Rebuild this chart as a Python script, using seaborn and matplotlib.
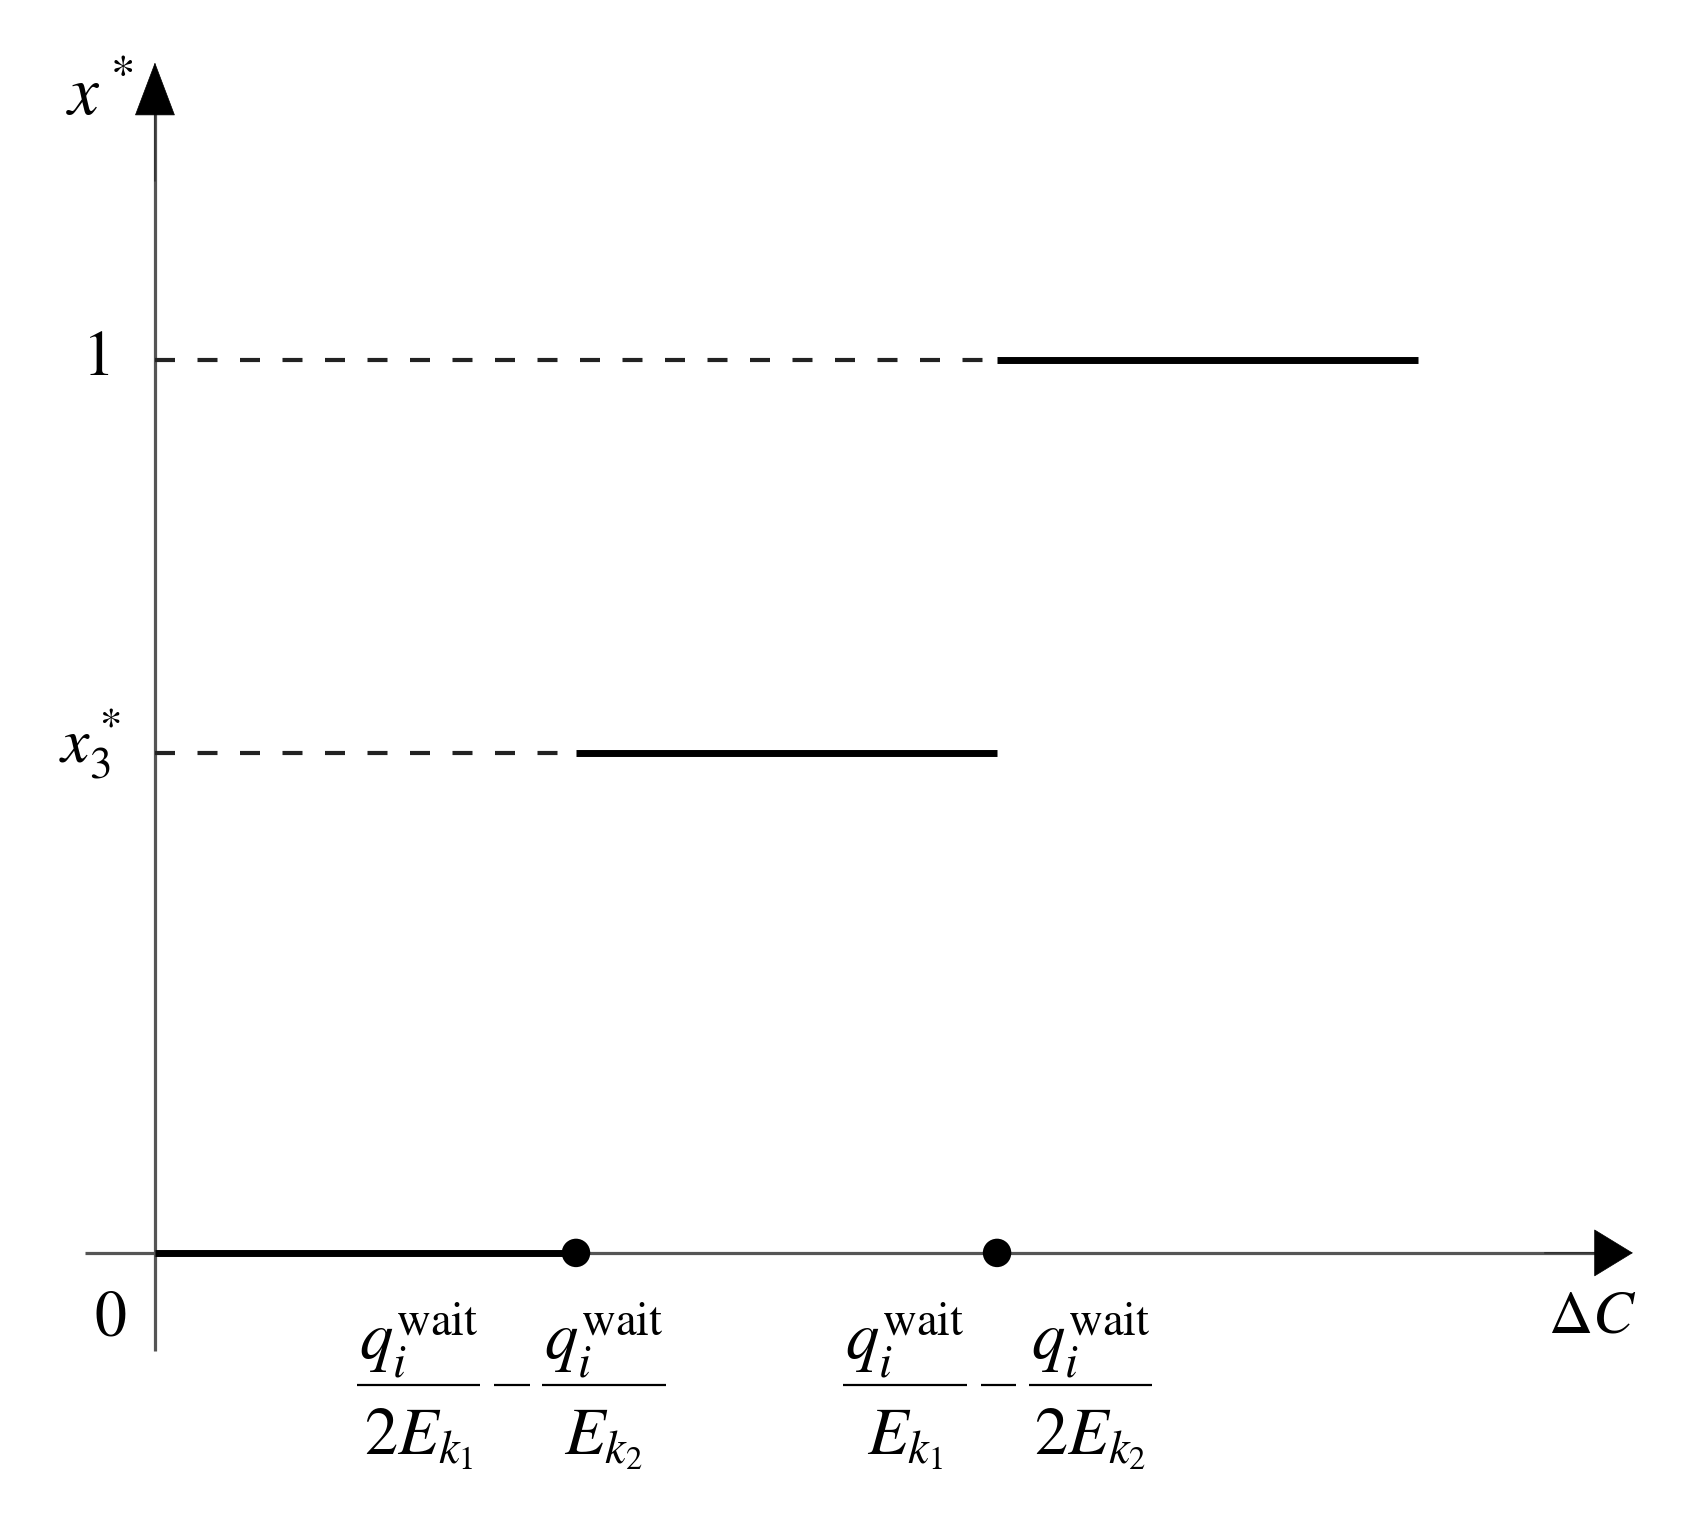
import matplotlib
matplotlib.use("Agg")
import matplotlib.pyplot as plt
import pandas as pd
import seaborn as sns

# thresholds on the Delta C axis (0, first break, second break, end of plotted range)
breaks = [0.0, 1.0, 2.0, 3.0]
# equilibrium x* on each interval
levels = [0.0, 0.56, 1.0]
level_labels = ["$0$", "$x_3^*$", "$1$"]
# each break label is  num/den_left - num/den_right
break_num = [r"$q_i^{\mathrm{wait}}$", r"$q_i^{\mathrm{wait}}$"]
break_den_left = [r"$2E_{k_1}$", r"$E_{k_1}$"]
break_den_right = [r"$E_{k_2}$", r"$2E_{k_2}$"]
x_label = r"$\Delta C$"
y_label = r"$x^*$"

sns.set_theme(style="white")
plt.rcParams["mathtext.fontset"] = "stix"
plt.rcParams["font.family"] = ["STIXGeneral", "DejaVu Serif"]
plt.rcParams["text.color"] = "black"

fig = plt.figure(figsize=(17.04, 15.36), dpi=100)
ax = fig.add_axes([0, 0, 1, 1])
ax.set_xlim(-0.368, 3.679)
ax.set_ylim(-0.317, 1.403)
ax.axis("off")

# solid pieces of x*
solid = pd.DataFrame({
    "x": [b for i in range(3) for b in (breaks[i], breaks[i + 1])],
    "y": [lv for lv in levels for _ in range(2)],
    "seg": [i for i in range(3) for _ in range(2)],
})
# dashed guides from the y axis to the start of each level
guide = pd.DataFrame({
    "x": [b for i in (1, 2) for b in (0.0, breaks[i])],
    "y": [levels[i] for i in (1, 2) for _ in range(2)],
    "seg": [i for i in (1, 2) for _ in range(2)],
})

# axes with arrows
ax_col = "#555555"
ax.plot([-0.166, 3.45], [0, 0], color=ax_col, lw=2.3, zorder=1, solid_capstyle="butt")
ax.plot([0, 0], [-0.11, 1.29], color=ax_col, lw=2.3, zorder=1, solid_capstyle="butt")
ax.annotate("", xy=(3.51, 0), xytext=(3.30, 0),
            arrowprops=dict(arrowstyle="-|>,head_length=2.7,head_width=1.65",
                            mutation_scale=10, color="black", lw=0.5,
                            shrinkA=0, shrinkB=0))
ax.annotate("", xy=(0, 1.333), xytext=(0, 1.20),
            arrowprops=dict(arrowstyle="-|>,head_length=3.7,head_width=1.4",
                            mutation_scale=10, color="black", lw=0.5,
                            shrinkA=0, shrinkB=0))

sns.lineplot(data=guide, x="x", y="y", units="seg", estimator=None, ax=ax,
             color="#222222", lw=3.0, linestyle=(0, (4.8, 5.4)), zorder=2,
             legend=False)
sns.lineplot(data=solid, x="x", y="y", units="seg", estimator=None, ax=ax,
             color="black", lw=5, zorder=3, legend=False,
             solid_capstyle="butt")
sns.scatterplot(x=breaks[1:3], y=[0, 0], ax=ax, s=420, color="black",
                edgecolor="none", zorder=5, legend=False)

# labels
fs = 46
ax.text(-0.107, -0.075, level_labels[0], fontsize=fs, ha="center", va="center")
ax.text(-0.140, levels[2], level_labels[2], fontsize=fs, ha="center", va="center")
ax.text(-0.154, 0.549, level_labels[1], fontsize=fs, ha="center", va="baseline")
ax.text(-0.131, 1.274, y_label, fontsize=fs + 4, ha="center", va="baseline")
ax.text(3.413, -0.073, x_label, fontsize=fs - 2, ha="center", va="center")

# fraction labels under the breaks, built piece by piece
label_cx = [0.846, 2.002]
bar_y, num_y, den_y = -0.1478, -0.1198, -0.2262
part_dx, half_w, minus_hw = 0.220, 0.147, 0.042
ffs = 48
for i, cx in enumerate(label_cx):
    for side, den in ((-1, break_den_left[i]), (1, break_den_right[i])):
        px = cx + side * part_dx
        ax.plot([px - half_w, px + half_w], [bar_y, bar_y], color="black",
                lw=1.6, solid_capstyle="butt")
        ax.text(px, num_y, break_num[i], fontsize=ffs, ha="center", va="baseline")
        ax.text(px, den_y, den, fontsize=ffs, ha="center", va="baseline")
    # minus sign between the two fractions
    ax.plot([cx + 0.002 - minus_hw, cx + 0.002 + minus_hw], [bar_y, bar_y],
            color="black", lw=1.6, solid_capstyle="butt")

fig.savefig("out.png", dpi=100, facecolor="white")
